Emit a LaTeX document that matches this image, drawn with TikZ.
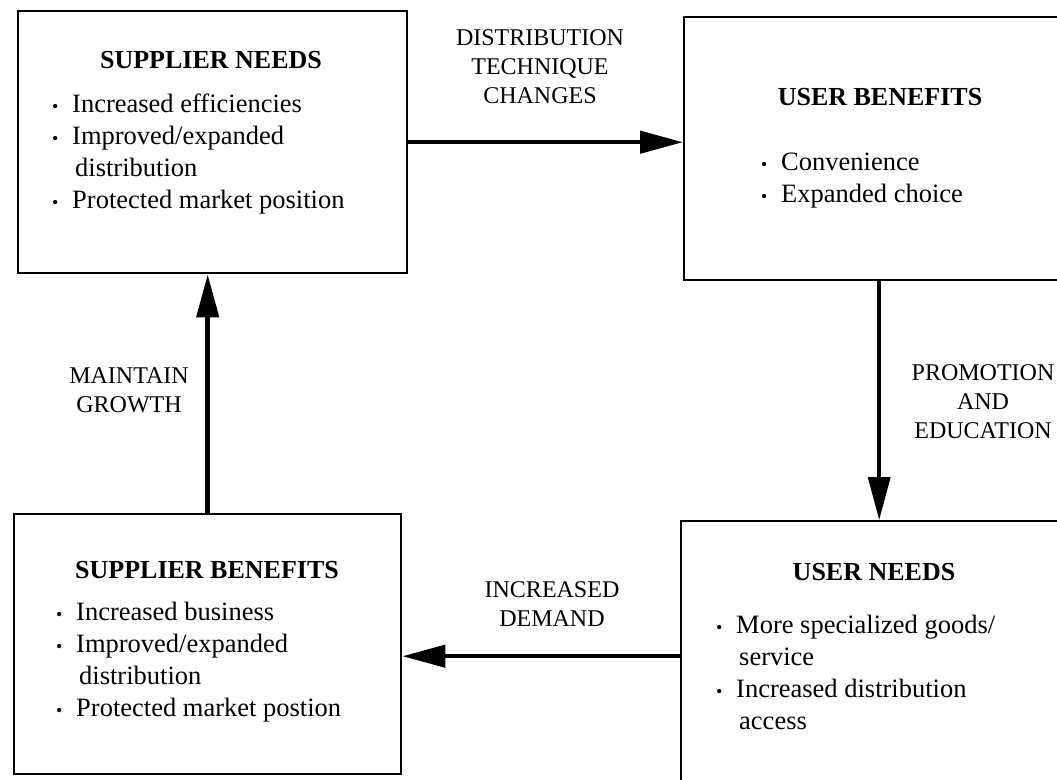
\documentclass[tikz,border=0pt]{standalone}
\usepackage{fontspec}
\setmainfont{Liberation Serif}
\usetikzlibrary{arrows.meta}
% bullet and continuation indent for the item lists
\newcommand{\itembul}{\makebox[20pt][l]{\fontsize{18}{18}\selectfont\textbullet}}
\newcommand{\itemcont}{\hspace*{23pt}}

\begin{document}
\begin{tikzpicture}[x=1pt,y=-1pt,
  box/.style={draw, line width=2.4pt, rectangle, anchor=north west, inner sep=0pt},
  heading/.style={font=\fontsize{26}{32}\selectfont\bfseries, anchor=base, inner sep=0pt},
  % multi-line nodes are placed by the baseline of their last line
  items/.style={font=\fontsize{26.5}{32}\selectfont, align=left, anchor=base west, inner sep=0pt},
  flowlabel/.style={font=\fontsize{24}{29}\selectfont, align=center, anchor=base, inner sep=0pt},
  flow/.style={line width=4.5pt, -{Triangle[length=43pt,width=22pt]}},
]
\useasboundingbox (0,0) rectangle (1057,779);
\fill[white] (0,0) rectangle (1057,779);
\clip (0,0) rectangle (1057,779);

% the four boxes
\node[box, minimum width=389pt, minimum height=262pt] (b1) at (17,10) {};
\node[box, minimum width=390pt, minimum height=263pt] (b2) at (683,16) {};
\node[box, minimum width=387pt, minimum height=260pt] (b3) at (13,513) {};
\node[box, minimum width=390pt, minimum height=270pt] (b4) at (680,520) {};

% box contents
\node[heading] (t1) at (211,68) {SUPPLIER NEEDS};
\node[items] (i1) at (52,208) {\itembul Increased efficiencies\\
  \itembul Improved/expanded\\
  \itemcont distribution\\
  \itembul Protected market position};

\node[heading] (t2) at (880,105) {USER BENEFITS};
\node[items] (i2) at (761,202) {\itembul Convenience\\
  \itembul Expanded choice};

\node[heading] (t3) at (207,578) {SUPPLIER BENEFITS};
\node[items] (i3) at (56,716) {\itembul Increased business\\
  \itembul Improved/expanded\\
  \itemcont distribution\\
  \itembul Protected market postion};

\node[heading] (t4) at (874,580) {USER NEEDS};
\node[items] (i4) at (716,729) {\itembul More specialized goods/\\
  \itemcont service\\
  \itembul Increased distribution\\
  \itemcont access};

% connectors between the boxes
\draw[flow] (b1.east) -- (b1.east -| b2.west);
\draw[flow, line width=3.6pt] (b2.south) -- (b2.south |- b4.north);
\draw[flow] (b4.west) -- (b4.west -| b3.east);
\draw[flow] (b3.north) -- (b3.north |- b1.south);

% connector labels
\node[flowlabel] (l1) at (540,103) {DISTRIBUTION\\TECHNIQUE\\CHANGES};
\node[flowlabel] (l2) at (983,438) {PROMOTION\\AND\\EDUCATION};
\node[flowlabel] (l3) at (552,626) {INCREASED\\DEMAND};
\node[flowlabel] (l4) at (129,412) {MAINTAIN\\GROWTH};
\end{tikzpicture}
\end{document}
